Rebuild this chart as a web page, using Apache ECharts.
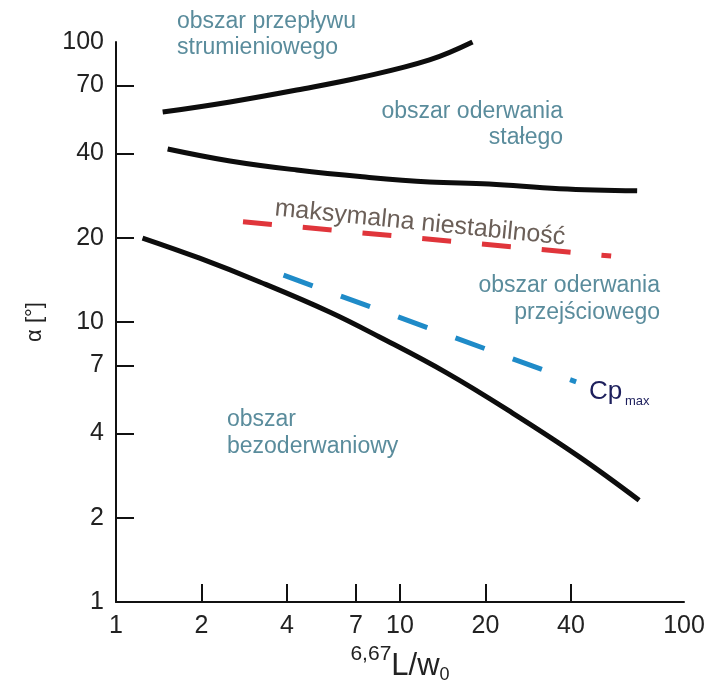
<!DOCTYPE html>
<html>
<head>
<meta charset="utf-8">
<script src="https://cdn.jsdelivr.net/npm/echarts@6/dist/echarts.min.js"></script>
<style>
	html, body { margin: 0; padding: 0; background: #fff; }
	#chartDiv { width: 718px; height: 686px; }
</style>
</head>
<body>
<div id="chartDiv"></div>
<script>
// boundary curves (x = L/w0, y = alpha in degrees)
const upperX = [1.46, 2.52, 4.33, 7.38, 12.7, 18.0];
const upperY = [56.2, 61.1, 67.4, 75.0, 86.3, 100];
const middleX = [1.52, 2.52, 4.33, 7.38, 12.7, 20.6, 36.4, 68.4];
const middleY = [41.5, 37.6, 34.9, 33.0, 31.6, 31.1, 29.9, 29.4];
const lowerX = [1.24, 1.97, 3.21, 5.65, 8.47, 14.6, 24.9, 42.8, 69.5];
const lowerY = [19.95, 16.9, 13.9, 10.86, 8.84, 6.58, 4.73, 3.30, 2.31];
// maksymalna niestabilnosc (red) and Cp max (blue)
const instabX = [2.80, 55.4];
const instabY = [22.8, 17.2];
const cpmaxX = [3.89, 41.7];
const cpmaxY = [14.7, 6.11];
// ticks
const xTicks = [2, 4, 7, 10, 20, 40];
const xLabels = [1, 2, 4, 7, 10, 20, 40, 100];
const yTicks = [2, 4, 7, 10, 20, 40, 70];
const yLabels = [1, 2, 4, 7, 10, 20, 40, 70, 100];

const FONT = 'Liberation Sans, Arial, sans-serif';
const REGION = '#5a8c9c';

const pairs = (xs, ys) => xs.map((x, i) => [x, ys[i]]);

// region annotations: text, x, y, align
const notes = [
	['obszar przepływu', 177, 22, 'left'],
	['strumieniowego', 177, 48, 'left'],
	['obszar oderwania', 563, 112, 'right'],
	['stałego', 563, 138, 'right'],
	['obszar oderwania', 660, 286, 'right'],
	['przejściowego', 660, 313, 'right'],
	['obszar', 227, 420, 'left'],
	['bezoderwaniowy', 227, 447, 'left']
];

chartInit = () => {
	let chart = echarts.init(document.getElementById('chartDiv'));
	let solid = (xs, ys) => ({
		type: 'line',
		data: pairs(xs, ys),
		smooth: 0.4,
		symbol: 'none',
		silent: true,
		lineStyle: { color: '#0d0d0d', width: 5, cap: 'butt' }
	});
	let dashed = (xs, ys, color, dash) => ({
		type: 'line',
		data: pairs(xs, ys),
		symbol: 'none',
		silent: true,
		lineStyle: { color: color, width: 5, type: dash, cap: 'butt' }
	});

	let graphics = notes.map(n => ({
		type: 'text',
		x: n[1],
		y: n[2],
		style: {
			text: n[0],
			fill: REGION,
			font: '23px ' + FONT,
			textAlign: n[3],
			textVerticalAlign: 'middle'
		}
	}));
	graphics.push({
		type: 'text',
		x: 420,
		y: 223,
		rotation: -0.1,
		style: {
			text: 'maksymalna niestabilność',
			fill: '#6b5f58',
			font: '25px ' + FONT,
			textAlign: 'center',
			textVerticalAlign: 'middle'
		}
	});
	graphics.push({
		type: 'text',
		x: 589,
		y: 392,
		style: { text: 'Cp', fill: '#1d1f5c', font: '26px ' + FONT, textVerticalAlign: 'middle' }
	});
	graphics.push({
		type: 'text',
		x: 625,
		y: 401,
		style: { text: 'max', fill: '#1d1f5c', font: '13px ' + FONT, textVerticalAlign: 'middle' }
	});

	let option = {
		animation: false,
		grid: {
			left: 116,
			right: 34,
			top: 42,
			bottom: 84,
			outerBoundsMode: 'none'
		},
		xAxis: {
			type: 'log',
			logBase: 10,
			min: 1,
			max: 100,
			name: '{a|6,67}{b|L/w}{c|0}',
			nameLocation: 'middle',
			nameGap: 32,
			nameTextStyle: {
				color: '#222',
				fontFamily: FONT,
				rich: {
					a: { fontSize: 21, lineHeight: 22, verticalAlign: 'top', fontFamily: FONT, color: '#222' },
					b: { fontSize: 31, lineHeight: 40, verticalAlign: 'bottom', fontFamily: FONT, color: '#222', padding: [0, 0, 2, 0] },
					c: { fontSize: 18, lineHeight: 18, verticalAlign: 'bottom', fontFamily: FONT, color: '#222' }
				}
			},
			axisLine: { lineStyle: { color: '#111', width: 2 } },
			axisTick: {
				inside: true,
				length: 18,
				customValues: xTicks,
				lineStyle: { color: '#111', width: 2 }
			},
			axisLabel: {
				customValues: xLabels,
				margin: 12,
				fontSize: 25,
				fontFamily: FONT,
				color: '#222'
			},
			splitLine: { show: false },
			minorTick: { show: false }
		},
		yAxis: {
			type: 'log',
			logBase: 10,
			min: 1,
			max: 100,
			name: 'α [°]',
			nameLocation: 'middle',
			nameGap: 70,
			nameTextStyle: { fontSize: 22, fontFamily: FONT, color: '#222' },
			axisLine: { lineStyle: { color: '#111', width: 2 } },
			axisTick: {
				inside: true,
				length: 18,
				customValues: yTicks,
				lineStyle: { color: '#111', width: 2 }
			},
			axisLabel: {
				customValues: yLabels,
				margin: 12,
				fontSize: 25,
				fontFamily: FONT,
				color: '#222'
			},
			splitLine: { show: false }
		},
		series: [
			solid(upperX, upperY),
			solid(middleX, middleY),
			solid(lowerX, lowerY),
			dashed(instabX, instabY, '#e0353b', [29, 31]),
			dashed(cpmaxX, cpmaxY, '#1f8bc8', [31, 30])
		],
		graphic: graphics
	};
	chart.setOption(option);
};
chartInit();
</script>
</body>
</html>
